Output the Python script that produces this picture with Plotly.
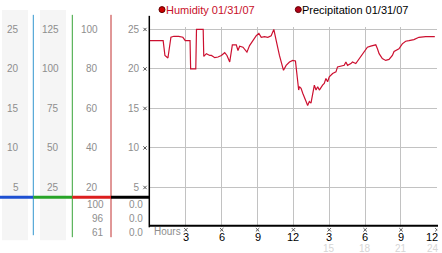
import plotly.graph_objects as go

W, H = 442, 253

# ---- data ----
hours = [0.0, 1.1, 1.25, 1.5, 1.75, 2.0, 2.4, 2.75, 2.95, 3.35, 3.4, 3.83, 3.89, 4.45, 4.5, 4.72,
         5.0, 5.14, 5.42, 5.69, 5.97, 6.25, 6.44, 6.67, 6.89, 7.22, 7.36, 7.5, 7.78, 8.11, 8.33,
         8.61, 8.89, 9.11, 9.31, 9.58, 9.86, 10.14, 10.36, 10.56, 10.83, 11.17, 11.39, 11.67,
         11.94, 12.17, 12.28, 12.44, 12.5, 12.64, 12.78, 12.92, 13.06, 13.19, 13.33, 13.47,
         13.61, 13.75, 13.89, 14.03, 14.17, 14.31, 14.44, 14.58, 14.72, 14.86, 15.0, 15.28,
         15.56, 15.69, 15.97, 16.25, 16.39, 16.53, 16.81, 16.94, 17.22, 17.5, 17.78, 18.06,
         18.19, 18.47, 18.75, 18.89, 19.03, 19.17, 19.44, 19.72, 20.0, 20.28, 20.42, 20.83,
         21.11, 21.39, 21.67, 22.08, 22.5, 23.06, 23.83]
humidity = [94.3, 94.3, 86.8, 85.5, 96, 96.5, 96.5, 96, 94.3, 94.3, 80, 80, 100, 100, 86.3, 87.7,
            86.8, 86.8, 85.7, 86, 86.8, 88.2, 86.8, 83.5, 92.2, 92.2, 89.3, 91.5, 91, 88.5, 91.8,
            94.3, 96.8, 98, 96, 96.3, 96, 96.8, 100, 94.3, 86.8, 79.3, 81.8, 83.5,
            84.3, 84, 78.5, 69.3, 71, 70.2, 67.7, 66, 63.5, 61.5, 63.5, 62.7,
            66.8, 71.8, 69.3, 71, 69.3, 71, 71.8, 72.7, 75.2, 73.5, 76, 77.7,
            78.5, 81, 81.5, 81.8, 83.5, 81.8, 82.7, 83.5, 82.7, 85.2, 87.7, 90.2,
            91, 91.5, 91.8, 92.2, 90.2, 87.7, 85.2, 84.3, 84.8, 86.8, 88.8, 90.2,
            92.7, 94, 94.3, 94.8, 96, 96.3, 96.3]

xtick_vals = [3, 6, 9, 12, 15, 18, 21, 24]
xtick_text = ["3", "6", "9", "12", "3", "6", "9", "12"]
xtick_alt_vals = [15, 18, 21, 24]
xtick_alt_text = ["15", "18", "21", "24"]

ytick_vals = [20, 40, 60, 80, 100]          # humidity %
col1_text = ["5", "10", "15", "20", "25"]
col2_text = ["25", "50", "75", "100", "125"]
col3_text = ["20", "40", "60", "80", "100"]
col4_text = ["5", "10", "15", "20", "25"]
hum_stats = ["100", "96", "61"]
precip_stats = ["0.0", "0.0", "0.0"]

legend_labels = ["Humidity 01/31/07", "Precipitation 01/31/07"]


def px(x):
    return x / W


def py(y):
    return 1 - y / H


FONT = "Liberation Sans, Arial, sans-serif"
GRAY = "#8e8e8e"
RED = "#cc1030"
XMARK = "M -1.7 -1.7 L 1.7 1.7 M -1.7 1.7 L 1.7 -1.7"

fig = go.Figure()
fig.add_trace(go.Scatter(x=hours, y=humidity, mode="lines",
                         line=dict(color=RED, width=1.2), showlegend=False,
                         hoverinfo="skip"))

shapes = []
# gray column backgrounds
for x0, x1 in [(2, 28), (40, 66)]:
    shapes.append(dict(type="rect", xref="paper", yref="paper", x0=px(x0), x1=px(x1),
                       y0=py(240), y1=py(7), fillcolor="#f5f5f5", line=dict(width=0),
                       layer="below"))
# vertical separators
for x, col, yb in [(33.3, "#3396cf", 235), (72.3, "#37a337", 237), (111, "#c23030", 237)]:
    shapes.append(dict(type="line", xref="paper", yref="paper", x0=px(x), x1=px(x),
                       y0=py(yb), y1=py(12), line=dict(color=col, width=1)))
# colored horizontal bars
for x0, x1, col in [(0, 33.3, "#1e50d2"), (33.3, 72.3, "#28a428"),
                    (72.3, 111, "#dc1e1e"), (111, 149.5, "#000000")]:
    shapes.append(dict(type="line", xref="paper", yref="paper", x0=px(x0), x1=px(x1),
                       y0=py(196.7), y1=py(196.7), line=dict(color=col, width=3)))
# main axis lines
shapes.append(dict(type="line", xref="paper", yref="paper", x0=px(149.3), x1=px(149.3),
                   y0=py(227), y1=py(13), line=dict(color="black", width=1.5)))
shapes.append(dict(type="line", xref="paper", yref="paper", x0=px(149), x1=px(438),
                   y0=py(225.5), y1=py(225.5), line=dict(color="black", width=2)))
# tick marks (small x glyphs)
for v in xtick_vals:
    shapes.append(dict(type="path", xref="x", yref="paper", xsizemode="pixel",
                       ysizemode="pixel", xanchor=v, yanchor=py(229.5), path=XMARK,
                       line=dict(color="#555", width=1)))
for v in ytick_vals:
    shapes.append(dict(type="path", xref="paper", yref="y", xsizemode="pixel",
                       ysizemode="pixel", xanchor=px(145), yanchor=v, path=XMARK,
                       line=dict(color="#555", width=1)))
# legend dots
for x, fc in [(162, "#cc0000"), (298.3, "#b00018")]:
    shapes.append(dict(type="circle", xref="paper", yref="paper", xsizemode="pixel",
                       ysizemode="pixel", xanchor=px(x), yanchor=py(6.7),
                       x0=-3, x1=3, y0=-3, y1=3, fillcolor=fc,
                       line=dict(color="#600000", width=1)))

ann = []
for xr, texts in [(20.5, col1_text), (60.5, col2_text), (99.5, col3_text)]:
    for v, t in zip(ytick_vals, texts):
        ann.append(dict(text=t, xref="paper", yref="y", x=px(xr), y=v, xanchor="right",
                        yanchor="middle", showarrow=False,
                        font=dict(family=FONT, size=10, color=GRAY)))
for yy, a, b in zip([204, 218.5, 232.5], hum_stats, precip_stats):
    ann.append(dict(text=a, xref="paper", yref="paper", x=px(105.5), y=py(yy),
                    xanchor="right", yanchor="middle", showarrow=False,
                    font=dict(family=FONT, size=10, color=GRAY)))
    ann.append(dict(text=b, xref="paper", yref="paper", x=px(145), y=py(yy),
                    xanchor="right", yanchor="middle", showarrow=False,
                    font=dict(family=FONT, size=10, color=GRAY)))
# black hour labels (last one nudged left to stay inside the page)
last = len(xtick_vals) - 1
for i, (v, t) in enumerate(zip(xtick_vals, xtick_text)):
    ann.append(dict(text=t, xref="x", yref="paper", x=v, y=py(236.8), xanchor="center",
                    yanchor="middle", showarrow=False, xshift=-4.5 if i == last else 0,
                    font=dict(family=FONT, size=11, color="black")))
for i, (v, t) in enumerate(zip(xtick_alt_vals, xtick_alt_text)):
    ann.append(dict(text=t, xref="x", yref="paper", x=v, y=py(248), xanchor="center",
                    yanchor="middle", showarrow=False,
                    xshift=-4 if i == len(xtick_alt_vals) - 1 else 0,
                    font=dict(family=FONT, size=10, color="#d6d6d6")))
ann.append(dict(text="Hours", xref="paper", yref="paper", x=px(151.5), y=py(231),
                xanchor="left", yanchor="middle", showarrow=False,
                font=dict(family=FONT, size=10, color=GRAY)))
ann.append(dict(text=legend_labels[0], xref="paper", yref="paper", x=px(164), y=py(6.7),
                xanchor="left", yanchor="middle", showarrow=False,
                font=dict(family=FONT, size=11, color="#c8102a")))
ann.append(dict(text=legend_labels[1], xref="paper", yref="paper", x=px(300), y=py(6.7),
                xanchor="left", yanchor="middle", showarrow=False,
                font=dict(family=FONT, size=11, color="#000000")))

fig.update_layout(
    width=W, height=H, margin=dict(l=0, r=0, t=0, b=0),
    paper_bgcolor="white", plot_bgcolor="white",
    showlegend=False, shapes=shapes, annotations=ann,
    xaxis=dict(domain=[px(150), px(437.2)], range=[0, 24.03], tickvals=xtick_vals,
               showticklabels=False, showgrid=True, gridcolor="#c2c2c2", gridwidth=1,
               zeroline=False, showline=False, ticks="", fixedrange=True),
    yaxis=dict(domain=[py(226.7), py(24.7)], range=[0, 101], tickvals=ytick_vals,
               ticktext=col4_text, showgrid=True, gridcolor="#c2c2c2", gridwidth=1,
               zeroline=False, showline=False, ticks="", ticklabelstandoff=10,
               tickfont=dict(family=FONT, size=10, color=GRAY), fixedrange=True),
)

fig.write_html("out.html")
